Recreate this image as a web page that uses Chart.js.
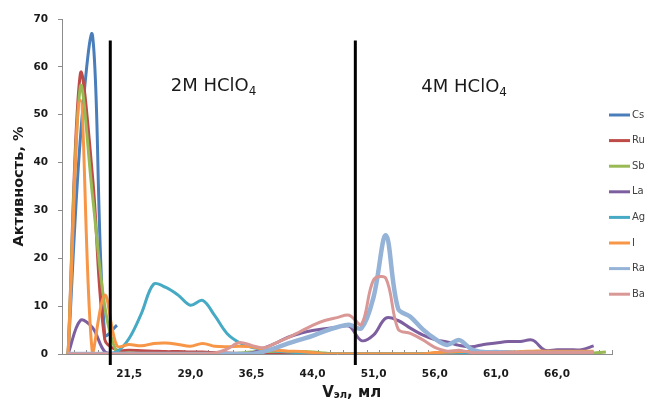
<!DOCTYPE html>
<html>
<head>
<meta charset="utf-8">
<script src="https://cdn.jsdelivr.net/npm/chart.js@4.4.0/dist/chart.umd.min.js"></script>
<style>
  body { margin: 0; background: #fff; }
  #wrap { width: 654px; height: 401px; }
</style>
</head>
<body>
<div id="wrap"><canvas id="myChart" width="654" height="401"></canvas></div>
<script>
// объём элюата, мл (подписи оси X)
var volumes = ['14,0','15,5','17,0','18,5','20,0','21,5','23,0','24,5','26,0','27,5',
               '29,0','30,5','32,0','33,5','35,0','36,5','38,0','39,5','41,0','42,5',
               '44,0','45,5','47,0','48,5','50,0','51,0','52,0','53,0','54,0','55,0',
               '56,0','57,0','58,0','59,0','60,0','61,0','62,0','63,0','64,0','65,0',
               '66,0','67,0','68,0','69,0','70,0'];

var yTicks = [0, 10, 20, 30, 40, 50, 60, 70];

// активность, %
var cs = [0, 45, 66.5, 4, 6, null, null, null, null, null, null, null, null, null, null,
          null, null, null, null, null, null, null, null, null, null, null, null, null, null, null,
          null, null, null, null, null, null, null, null, null, null, null, null, null, null, null];
var ru = [0, 58.5, 37, 3, 0.8, 0.8, 0.7, 0.6, 0.5, 0.5, 0.4, 0.4, 0.3, 0.2, 0.1,
          0, 0, 0, 0, 0, 0, 0, 0, 0, 0, 0, 0, 0, 0, 0,
          0, 0, 0, 0, 0, 0, 0, 0, 0, 0, 0, 0, 0, 0, null];
var sb = [0, 55.8, 33, 10, 0.3, 0.2, 0.1, 0, 0, 0, 0, 0, 0, 0, 0.2,
          0.4, 0.5, 0.5, 0.5, 0.5, 0.4, 0.2, 0, 0, 0, 0, 0, 0, 0, 0,
          0, 0, 0, 0, 0, 0, 0, 0, 0, 0, 0, 0, 0, 0.2, 0.4];
var la = [0, 7, 5.5, 0.5, 0, 0, 0, 0, 0, 0, 0, 0, 0, 0, 0,
          0.2, 1.2, 2.3, 3.5, 4.3, 4.9, 5.3, 5.6, 5.8, 2.8, 4.0, 7.5, 7.0, 5.4, 4.0,
          3.0, 2.5, 1.8, 1.5, 2.0, 2.3, 2.6, 2.6, 2.9, 0.8, 0.9, 0.9, 0.9, 1.7, null];
var ag = [0, 0, 0, 0, 0.5, 3.3, 8.5, 14.6, 13.9, 12.3, 10.2, 11.2, 8.0, 4.3, 2.4,
          1.4, 1.0, 0.6, 0.4, 0.3, 0.2, 0, 0, 0, 0, 0, 0, 0, 0, 0,
          0, 0, 0, 0, 0, 0, 0, 0, 0, 0, 0, 0, 0, 0, null];
var iod = [0, 53, 0, 12.3, 1.7, 2.0, 1.7, 2.2, 2.3, 2.0, 1.6, 2.2, 1.6, 1.5, 1.6,
           1.5, 1.0, 0.8, 0.6, 0.5, 0.3, 0, 0, 0, 0, 0, 0, 0, 0, 0,
           0.3, 0.4, 0.5, 0.5, 0.5, 0.5, 0.5, 0.5, 0.6, 0.6, 0.6, 0.6, 0.6, 0.6, null];
var ra = [0, 0, 0, 0, 0, 0, 0, 0, 0, 0, 0, 0, 0, 0, 0,
          0, 0.5, 1.3, 2.2, 3.0, 3.8, 4.8, 5.6, 6.1, 5.4, 12, 24.8, 9.5, 7.8, 5.2,
          3.2, 1.9, 2.9, 1.0, 0.4, 0.4, 0.3, 0.2, 0.2, 0.2, 0.2, 0.2, 0.2, 0.2, null];
var ba = [0, 0, 0, 0, 0, 0, 0, 0, 0, 0, 0, 0, 0.2, 1.0, 2.4,
          1.8, 1.3, 2.3, 3.4, 4.7, 6.0, 7.0, 7.6, 8.1, 6.2, 15.5, 15.8, 5.2, 4.3, 3.0,
          1.4, 0.6, 0.8, 0.3, 0.3, 0.3, 0.3, 0.3, 0.3, 0.3, 0.3, 0.3, 0.3, 0.3, null];

var names = ['Cs', 'Ru', 'Sb', 'La', 'Ag', 'I', 'Ra', 'Ba'];
var series = [cs, ru, sb, la, ag, iod, ra, ba];
var colors = ['#4A7EBB', '#BE4B48', '#98B954', '#7D5FA0', '#46AAC4', '#F79646', '#95B3D7', '#D99795'];

var datasets = names.map(function(n, k) {
    return {
        label: n,
        data: series[k],
        borderColor: colors[k],
        backgroundColor: colors[k],
        borderWidth: n === 'Ra' ? 4.5 : 3,
        pointRadius: 0,
        tension: 0.35,
        fill: false,
        order: names.length - k // последние серии поверх, как в Excel
    };
});

var axisColor = '#8c8c8c';
var textColor = '#1a1a1a';

// разделители, подписи растворов, подпись оси X, легенда
var extras = {
    id: 'extras',
    afterDraw: function(chart) {
        var ctx = chart.ctx;
        var x = chart.scales.x, y = chart.scales.y;
        ctx.save();

        ctx.strokeStyle = '#000';
        ctx.lineWidth = 3;
        [3.45, 23.5].forEach(function(d) {
            var px = x.getPixelForValue(d);
            ctx.beginPath();
            ctx.moveTo(px, y.getPixelForValue(65.5));
            ctx.lineTo(px, y.bottom + 11);
            ctx.stroke();
        });

        ctx.fillStyle = textColor;
        ctx.textBaseline = 'alphabetic';
        ctx.textAlign = 'left';
        [['2M HClO', 8.4, 55], ['4M HClO', 28.9, 54.8]].forEach(function(t) {
            var px = x.getPixelForValue(t[1]);
            var py = y.getPixelForValue(t[2]);
            ctx.font = '18px "DejaVu Sans"';
            ctx.fillText(t[0], px, py);
            var w = ctx.measureText(t[0]).width;
            ctx.font = '12px "DejaVu Sans"';
            ctx.fillText('4', px + w, py + 4);
        });

        // Vэл, мл
        ctx.font = 'bold 15px "DejaVu Sans"';
        var w1 = ctx.measureText('V').width;
        var w3 = ctx.measureText(', мл').width;
        ctx.font = 'bold 10px "DejaVu Sans"';
        var w2 = ctx.measureText('эл').width;
        var sx = x.getPixelForValue(23.2) - (w1 + w2 + w3) / 2;
        var by = chart.height - 4;
        ctx.font = 'bold 15px "DejaVu Sans"';
        ctx.fillText('V', sx, by);
        ctx.font = 'bold 10px "DejaVu Sans"';
        ctx.fillText('эл', sx + w1, by + 1);
        ctx.font = 'bold 15px "DejaVu Sans"';
        ctx.fillText(', мл', sx + w1 + w2, by);

        // легенда
        ctx.font = '10px "DejaVu Sans"';
        ctx.textBaseline = 'middle';
        chart.data.datasets.forEach(function(ds, k) {
            var ly = 115 + k * 25.6;
            ctx.strokeStyle = ds.borderColor;
            ctx.lineWidth = 3;
            ctx.beginPath();
            ctx.moveTo(609, ly);
            ctx.lineTo(630, ly);
            ctx.stroke();
            ctx.fillStyle = '#404040';
            ctx.fillText(ds.label, 632, ly);
        });

        ctx.restore();
    }
};

var ctx = document.getElementById('myChart').getContext('2d');
var myChart = new Chart(ctx, {
    type: 'line',
    data: { labels: volumes, datasets: datasets },
    plugins: [extras],
    options: {
        responsive: false,
        animation: false,
        layout: { padding: { top: 19, right: 42, left: 0, bottom: 0 } },
        plugins: {
            legend: { display: false },
            tooltip: { enabled: false }
        },
        scales: {
            x: {
                type: 'category',
                offset: true,
                afterFit: function(scale) { scale.height = 47; },
                grid: { offset: true, drawOnChartArea: false, tickLength: -4, color: axisColor },
                border: { color: axisColor, width: 1 },
                ticks: {
                    autoSkip: false,
                    maxRotation: 0,
                    padding: 18,
                    color: textColor,
                    font: { family: 'DejaVu Sans', weight: 'bold', size: 10.5 },
                    callback: function(val, i) {
                        return (i > 0 && i % 5 === 0) ? volumes[i] : '';
                    }
                }
            },
            y: {
                min: yTicks[0],
                max: yTicks[yTicks.length - 1],
                afterFit: function(scale) { scale.width = 62; },
                afterBuildTicks: function(scale) {
                    scale.ticks = yTicks.map(function(v) { return { value: v }; });
                },
                grid: { drawOnChartArea: false, tickLength: 4, color: axisColor },
                border: { color: axisColor, width: 1 },
                ticks: {
                    padding: 10,
                    color: textColor,
                    font: { family: 'DejaVu Sans', weight: 'bold', size: 10.5 }
                },
                title: {
                    display: true,
                    text: 'Активность, %',
                    color: textColor,
                    padding: { top: 11, bottom: 0 },
                    font: { family: 'DejaVu Sans', weight: 'bold', size: 14.5 }
                }
            }
        }
    }
});
</script>
</body>
</html>
